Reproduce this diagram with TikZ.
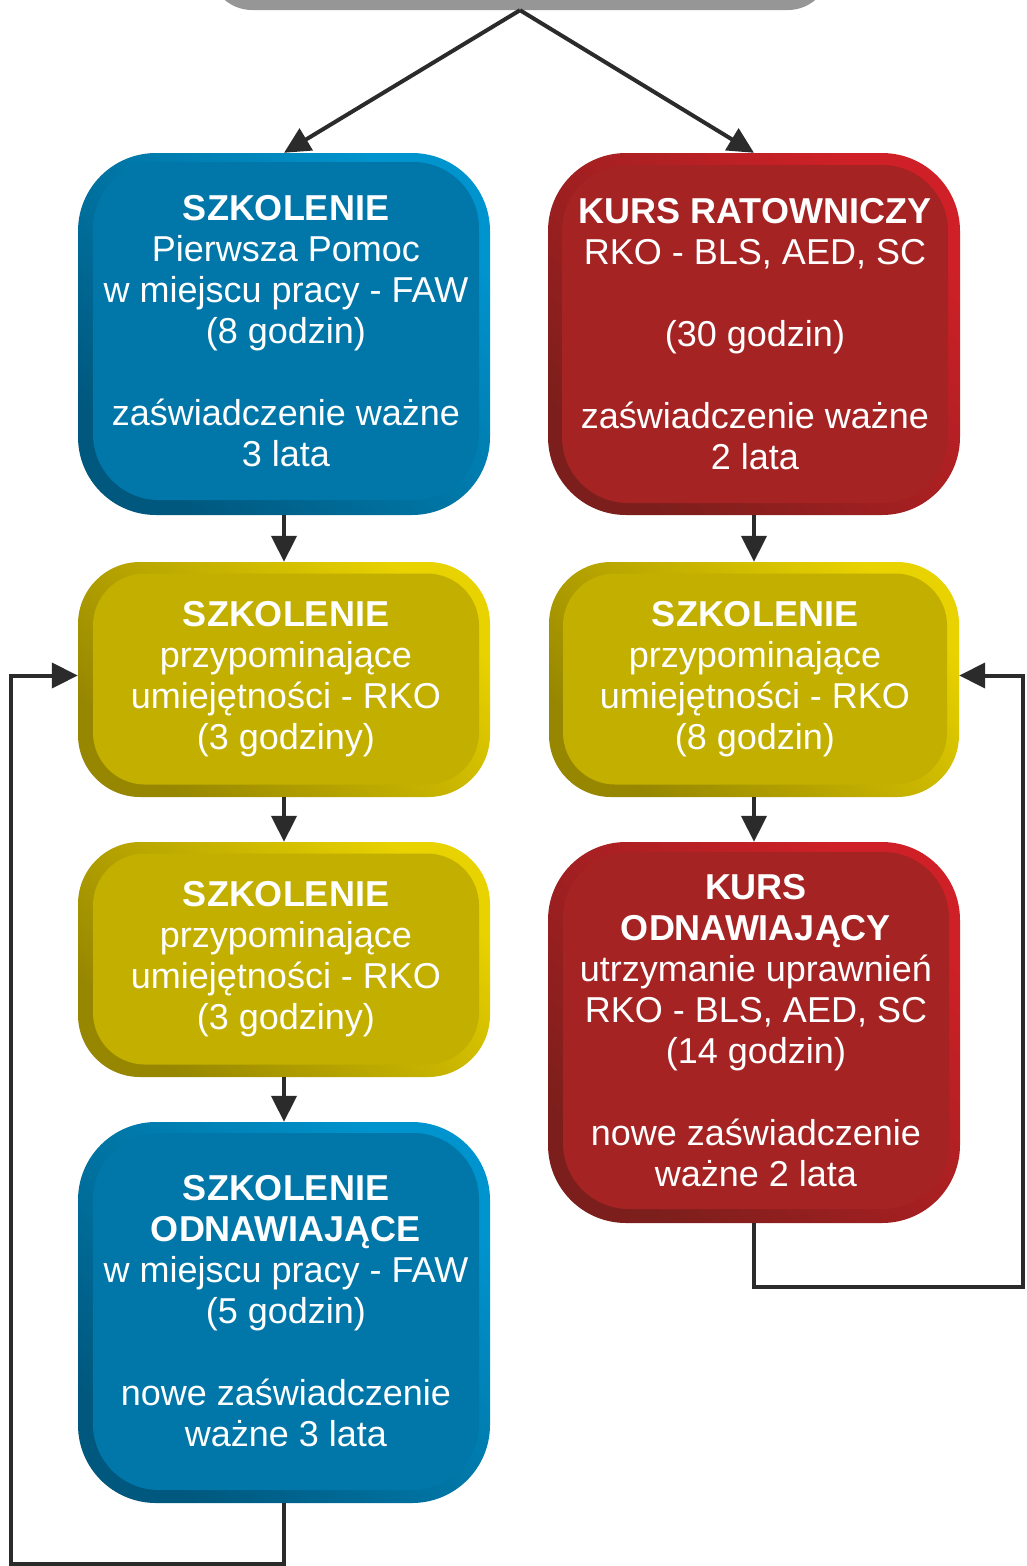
\documentclass[tikz,border=0pt]{standalone}
\usepackage{fontspec}
\setmainfont{Liberation Sans}
\usetikzlibrary{arrows.meta,calc}
\definecolor{bluemain}{HTML}{0077A8}
\definecolor{bluelight}{HTML}{0094CE}
\definecolor{bluedark}{HTML}{00587E}
\definecolor{redmain}{HTML}{A52323}
\definecolor{redlight}{HTML}{CF2027}
\definecolor{reddark}{HTML}{7C1F1C}
\definecolor{yelmain}{HTML}{C2AF00}
\definecolor{yellight}{HTML}{E8D200}
\definecolor{yeldark}{HTML}{968600}
\definecolor{graybox}{HTML}{969696}
\definecolor{linec}{HTML}{2B2B2B}
\begin{document}
\begin{tikzpicture}[x=1pt,y=-1pt,
  outerbox/.style={inner sep=0pt, minimum width=412pt},
  bluebevel/.style={outerbox, rounded corners=78pt, top color=bluelight, bottom color=bluedark, shading angle=-45},
  redbevel/.style={outerbox, rounded corners=78pt, top color=redlight, bottom color=reddark, shading angle=-45},
  yelbevel/.style={outerbox, rounded corners=62pt, top color=yellight, bottom color=yeldark, shading angle=-45},
  innerbox/.style={inner sep=0pt, minimum width=386pt, text=white, align=center,
    font=\fontsize{36pt}{41pt}\selectfont},
  blueinner/.style={innerbox, rounded corners=66pt, fill=bluemain},
  redinner/.style={innerbox, rounded corners=66pt, fill=redmain},
  yelinner/.style={innerbox, rounded corners=52pt, fill=yelmain},
  conn/.style={draw=linec, line width=4pt, -{Triangle[length=26pt,width=25pt]}}]
\clip (0,0) rectangle (1026,1566);
% top gray box
\node[fill=graybox, rounded corners=42pt, minimum width=620pt, minimum height=100pt, inner sep=0pt] (top) at (520,-40) {};
% outer bevel boxes
\node[bluebevel, minimum height=362pt] (b1) at (284,334) {};
\node[redbevel, minimum height=362pt] (r1) at (754,334) {};
\node[yelbevel, minimum height=235pt] (y1) at (284,679.5) {};
\node[yelbevel, minimum height=235pt, minimum width=410pt] (yr) at (754,679.5) {};
\node[yelbevel, minimum height=235pt] (y2) at (284,959.5) {};
\node[bluebevel, minimum height=381pt] (b2) at (284,1312.5) {};
\node[redbevel, minimum height=381pt] (r2) at (754,1032.5) {};
% inner faces with text
\node[blueinner, minimum height=338pt] (b1in) at (286,331) {\textbf{SZKOLENIE}\\Pierwsza Pomoc\\w miejscu pracy - FAW\\(8 godzin)\\[41pt]zaświadczenie ważne\\3 lata};
\node[redinner, minimum height=338pt] (r1in) at (755,334) {\textbf{KURS RATOWNICZY}\\RKO - BLS, AED, SC\\[41pt](30 godzin)\\[41pt]zaświadczenie ważne\\2 lata};
\node[yelinner, minimum height=211pt] (y1in) at (286,679) {\textbf{SZKOLENIE}\\przypominające\\umiejętności - RKO\\(3 godziny)};
\node[yelinner, minimum height=211pt, minimum width=384pt] (yrin) at (755,679) {\textbf{SZKOLENIE}\\przypominające\\umiejętności - RKO\\(8 godzin)};
\node[yelinner, minimum height=211pt] (y2in) at (286,959) {\textbf{SZKOLENIE}\\przypominające\\umiejętności - RKO\\(3 godziny)};
\node[blueinner, minimum height=357pt] (b2in) at (286,1311.5) {\textbf{SZKOLENIE}\\\textbf{ODNAWIAJĄCE}\\w miejscu pracy - FAW\\(5 godzin)\\[41pt]nowe zaświadczenie\\ważne 3 lata};
\node[redinner, minimum height=357pt] (r2in) at (756,1030.5) {\textbf{KURS}\\\textbf{ODNAWIAJĄCY}\\utrzymanie uprawnień\\RKO - BLS, AED, SC\\(14 godzin)\\[41pt]nowe zaświadczenie\\ważne 2 lata};
% connectors
\draw[conn] (top.south) -- (b1.north);
\draw[conn] (top.south) -- (r1.north);
\draw[conn] (b1.south) -- (y1.north);
\draw[conn] (r1.south) -- (yr.north);
\draw[conn] (y1.south) -- (y2.north);
\draw[conn] (y2.south) -- (b2.north);
\draw[conn] (yr.south) -- (r2.north);
\coordinate (bl) at (11,1564);
\coordinate (br) at (1023,1287);
\draw[conn] (b2.south) -- (b2.south |- bl) -- (bl) |- ([yshift=4pt]y1.west);
\draw[conn] (r2.south) -- (r2.south |- br) -- (br) |- ([yshift=4pt]yr.east);
\end{tikzpicture}
\end{document}
